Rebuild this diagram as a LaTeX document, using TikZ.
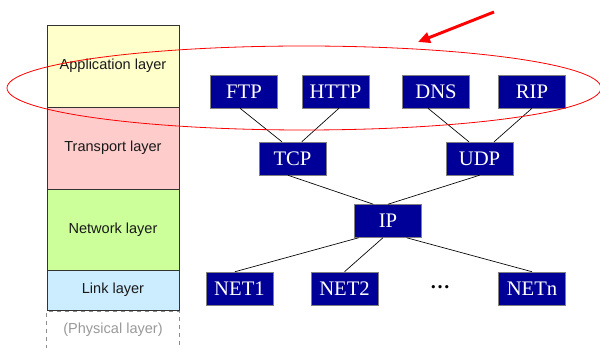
\documentclass[tikz,border=0pt]{standalone}
\usepackage{fontspec}
\setmainfont{Liberation Serif}
\newfontfamily\layerfont{Liberation Sans}
\usetikzlibrary{arrows.meta}

\definecolor{protoblue}{RGB}{0,0,153}
\definecolor{appfill}{RGB}{255,255,204}
\definecolor{transfill}{RGB}{255,204,204}
\definecolor{netfill}{RGB}{204,255,153}
\definecolor{linkfill}{RGB}{204,236,255}

\begin{document}
\begin{tikzpicture}[
    x=0.75pt, y=-0.75pt,
    layer/.style={draw=black!80, minimum width=99pt, inner sep=0pt, text=black!90,
        font=\layerfont\fontsize{10.9}{13}\selectfont},
    proto/.style={draw=gray, fill=protoblue, text=white, minimum width=50.25pt,
        minimum height=24.75pt, inner sep=0pt, font=\fontsize{15.5}{18}\selectfont},
    link/.style={black, line width=0.5pt}
]
\useasboundingbox (0,0) rectangle (600,348);

% Layer column on the left
\node[layer, fill=appfill, minimum height=61.5pt] (app) at (113,66) {Application layer};
\node[layer, fill=transfill, minimum height=61.5pt] (trans) at (113,148) {Transport layer};
\node[layer, fill=netfill, minimum height=60.75pt] (net) at (113,229.5) {Network layer};
\node[layer, fill=linkfill, minimum height=30pt] (lnk) at (113,290) {Link layer};
\node[layer, draw=none, text=black!40, minimum height=27.75pt] (phys) at (113,330) {(Physical layer)};
\draw[black!45, dashed] (phys.south west) -- (phys.north west) -- (phys.north east) -- (phys.south east);

% Protocol boxes
\node[proto] (ftp) at (244,91.5) {FTP};
\node[proto] (http) at (335.5,91.5) {HTTP};
\node[proto] (dns) at (436,91.5) {DNS};
\node[proto] (rip) at (532,91.5) {RIP};
\node[proto] (tcp) at (292.5,158.5) {TCP};
\node[proto] (udp) at (479.5,158.5) {UDP};
\node[proto] (ip) at (388,221) {IP};
\node[proto] (net1) at (239.5,288.5) {NET1};
\node[proto] (net2) at (344.5,288.5) {NET2};
\node[font=\fontsize{15}{18}\selectfont\bfseries] (dots) at (440,287) {\dots};
\node[proto] (netn) at (532,288.5) {NETn};

% Application -> transport
\draw[link] ([xshift=-3pt]ftp.south) -- ([xshift=-8pt]tcp.north);
\draw[link] ([xshift=2.6pt]http.south) -- ([xshift=7pt]tcp.north);
\draw[link] ([xshift=-6pt]dns.south) -- ([xshift=-8pt]udp.north);
\draw[link] (rip.south) -- ([xshift=11pt]udp.north);

% Transport -> IP
\draw[link] ([xshift=-3.4pt]tcp.south) -- ([xshift=-11pt]ip.north);
\draw[link] (udp.south) -- (ip.north);

% IP -> networks
\draw[link] ([xshift=-22pt]ip.south) -- ([xshift=-3.4pt]net1.north);
\draw[link] ([xshift=-3.8pt]ip.south) -- (net2.north);
\draw[link] ([xshift=14pt]ip.south) -- (netn.north);

% Highlight around the application layer
\draw[red, line width=0.6pt] (304,88) ellipse [x radius=222.75pt, y radius=31.5pt];
\coordinate (tail) at (494,12);
\coordinate (tip) at (418,42);
\draw[red, line width=2.2pt, -{Triangle[length=9pt, width=8pt]}] (tail) -- (tip);
\end{tikzpicture}
\end{document}
